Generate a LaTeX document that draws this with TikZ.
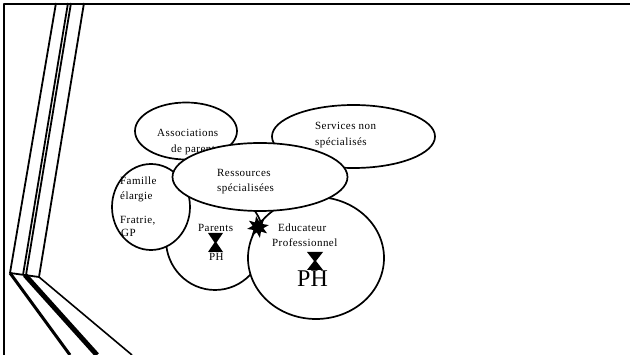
\documentclass[tikz,border=0pt]{standalone}
\usepackage{fontspec}
\setmainfont{Liberation Serif}[LetterSpace=4]
\newfontfamily\phfont{Liberation Serif}
\usetikzlibrary{shapes.geometric}
\begin{document}
\begin{tikzpicture}[x=1pt,y=-1pt,line join=round,
  bub/.style={ellipse, draw, line width=1.7pt, fill=white, inner sep=0pt},
  txt/.style={anchor=base west, inner sep=0pt, font=\fontsize{11}{13}\selectfont},
  deco/.style={line width=1.8pt}]
\useasboundingbox (0,0) rectangle (630,355);
% frame
\draw[line width=2pt] (4,355) -- (4,4) -- (630,4);
% decorative strips
\draw[deco] (56,3) -- (10,273);
\draw[deco] (68,3) -- (23,275);
\draw[deco] (71,3) -- (26,275);
\draw[deco] (84,3) -- (39,277);
\draw[deco] (10,273) -- (39,277);
\draw[line width=3pt] (10,273) -- (70,355);
\draw[line width=5pt] (25,275) -- (97,355);
\draw[line width=1.6pt] (39,277) -- (132,355);
% bubbles
\node[bub, minimum width=102pt, minimum height=57pt] (assoc) at (186,131) {};
\node[txt] (assoc1) at (157,137) {Associations};
\node[txt] (assoc2) at (171,153) {de parents};
\node[bub, minimum width=163pt, minimum height=63pt] (serv) at (353.5,136.5) {};
\node[bub, minimum width=98pt, minimum height=100pt] (par) at (215,240) {};
\node[bub, minimum width=136pt, minimum height=122pt] (educ) at (316,258) {};
\node[bub, minimum width=78pt, minimum height=86pt] (fam) at (151,207) {};
\node[bub, minimum width=175pt, minimum height=68pt] (res) at (260,177) {};
% texts
\node[txt] (serv1) at (315,130) {Services non};
\node[txt] (serv2) at (315,146) {spécialisés};
\node[txt] (res1) at (217,177) {Ressources};
\node[txt] (res2) at (217,192) {spécialisées};
\node[txt] (fam1) at (120,185) {Famille};
\node[txt] (fam2) at (120,200) {élargie};
\node[txt] (fam3) at (120,224) {Fratrie,};
\node[txt] (fam4) at (121,236.5) {GP};
\node[txt] (par1) at (198,232) {Parents};
\node[txt] (par2) at (209,261) {PH};
\node[txt] (edu1) at (278,232) {Educateur};
\node[txt] (edu2) at (272,247) {Professionnel};
\node[anchor=base west, inner sep=0pt, font=\phfont\fontsize{24}{28}\selectfont] (edu3) at (297,287) {PH};
% hourglasses
\fill (208,233) -- (223,233) -- (216.5,242.5) -- (223,252) -- (208,252) -- (214.5,242.5) -- cycle;
\fill (307,252) -- (323,252) -- (316,261) -- (323,270) -- (307,270) -- (314,261) -- cycle;
% burst
\node[star, star points=8, star point ratio=2, fill=black, minimum size=22pt, inner sep=0pt, rotate=10] (burst) at (258,227) {};
\end{tikzpicture}
\end{document}
